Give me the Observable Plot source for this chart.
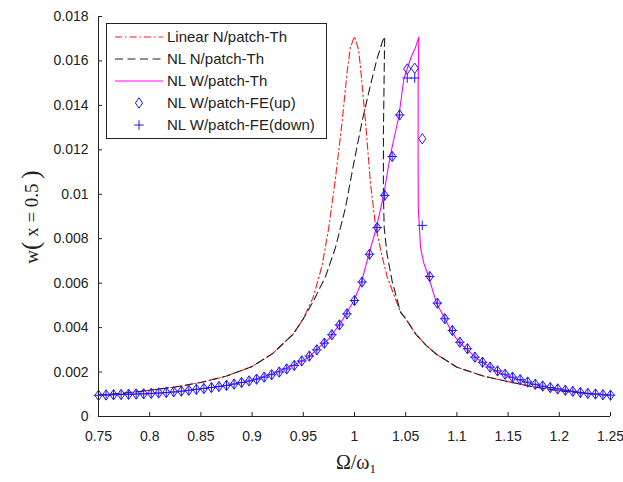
<!DOCTYPE html>
<html><head><meta charset="utf-8">
<script src="https://cdn.jsdelivr.net/npm/d3@7"></script>
<script src="https://cdn.jsdelivr.net/npm/@observablehq/plot@0.6"></script>
<style>body{margin:0;background:#fff} svg{display:block}</style>
</head><body><div id="chart"></div>
<script>
// ---- Data ----
const linOmega = [0.75, 0.775, 0.8, 0.825, 0.85, 0.875, 0.9, 0.92, 0.94, 0.95, 0.96, 0.9684, 0.9749, 0.9814, 0.988, 0.9928, 0.996, 1.0, 1.004, 1.0059, 1.0107, 1.0156, 1.0205, 1.027, 1.0318, 1.0449, 1.05, 1.06, 1.07, 1.08, 1.1, 1.125, 1.15, 1.175, 1.2, 1.225, 1.25];
const linW = [0.00097, 0.00105, 0.00118, 0.00133, 0.00153, 0.00182, 0.00225, 0.00283, 0.0037, 0.0044, 0.0054, 0.0068, 0.0085, 0.0107, 0.0133, 0.0155, 0.0166, 0.0171, 0.0165, 0.0157, 0.0133, 0.0105, 0.0086, 0.0072, 0.0063, 0.0047, 0.0044, 0.0037, 0.0032, 0.0028, 0.00222, 0.00183, 0.00157, 0.00133, 0.00116, 0.00104, 0.00095];

const nlnOmega = [0.75, 0.775, 0.8, 0.825, 0.85, 0.875, 0.9, 0.92, 0.94, 0.95, 0.96, 0.9717, 0.9814, 0.9912, 0.9993, 1.0075, 1.015, 1.022, 1.0275, 1.0295, 1.029, 1.0283, 1.0282, 1.029, 1.0318, 1.0367, 1.0449, 1.05, 1.06, 1.07, 1.08, 1.1, 1.125, 1.15, 1.175, 1.2, 1.225, 1.25];
const nlnW = [0.00097, 0.00105, 0.00118, 0.00133, 0.00153, 0.00182, 0.00225, 0.00283, 0.0037, 0.0044, 0.0052, 0.0063, 0.0076, 0.0094, 0.0114, 0.0133, 0.0148, 0.0161, 0.0169, 0.0171, 0.0155, 0.0130, 0.0100, 0.0085, 0.0073, 0.0061, 0.0047, 0.0044, 0.0037, 0.0032, 0.0028, 0.00222, 0.00183, 0.00157, 0.00133, 0.00116, 0.00104, 0.00095];

const nlwOmega = [0.75, 0.775, 0.8, 0.825, 0.85, 0.875, 0.9, 0.92, 0.94, 0.955, 0.965, 0.975, 0.9863, 0.9993, 1.0065, 1.014, 1.0214, 1.0286, 1.0352, 1.0433, 1.0482, 1.0547, 1.0595, 1.0628, 1.0622, 1.0621, 1.0623, 1.0645, 1.0677, 1.0716, 1.0801, 1.0872, 1.0938, 1.1019, 1.1094, 1.1176, 1.125, 1.1397, 1.1544, 1.1691, 1.1838, 1.1985, 1.2132, 1.2279, 1.25];
const nlwW = [0.00095, 0.00099, 0.00103, 0.0011, 0.00125, 0.0014, 0.00162, 0.00193, 0.0023, 0.00265, 0.0031, 0.0035, 0.0042, 0.0052, 0.0060, 0.0073, 0.0085, 0.0100, 0.0118, 0.0135, 0.0152, 0.0161, 0.0166, 0.01707, 0.0150, 0.0120, 0.0094, 0.0076, 0.0069, 0.0064, 0.0051, 0.0045, 0.0039, 0.00334, 0.00305, 0.00267, 0.00244, 0.0020, 0.00174, 0.00152, 0.00135, 0.00125, 0.00114, 0.00104, 0.00096];

const feOmega = [0.75, 0.7574, 0.7647, 0.7721, 0.7794, 0.7868, 0.7941, 0.8015, 0.8088, 0.8162, 0.8235, 0.8309, 0.8382, 0.8456, 0.8529, 0.8603, 0.8676, 0.875, 0.8824, 0.8897, 0.8971, 0.9044, 0.9118, 0.9191, 0.9265, 0.9338, 0.9412, 0.9485, 0.9559, 0.9632, 0.9706, 0.9779, 0.9853, 0.9926, 1.0, 1.0074, 1.0147, 1.0221, 1.0294, 1.0368, 1.0441, 1.0515, 1.0588, 1.0662, 1.0735, 1.0809, 1.0882, 1.0956, 1.1029, 1.1103, 1.1176, 1.125, 1.1324, 1.1397, 1.1471, 1.1544, 1.1618, 1.1691, 1.1765, 1.1838, 1.1912, 1.1985, 1.2059, 1.2132, 1.2206, 1.2279, 1.2353, 1.2426, 1.25];
const feUpW = [0.00095, 0.00097, 0.00098, 0.00099, 0.00100, 0.00101, 0.00102, 0.00104, 0.00106, 0.00108,
  0.00111, 0.00114, 0.00118, 0.00122, 0.00126, 0.00130, 0.00135, 0.00140, 0.00146, 0.00153,
  0.00160, 0.00168, 0.00177, 0.00188, 0.00200, 0.00214, 0.00230, 0.00250, 0.00272, 0.00300,
  0.00330, 0.00368, 0.00412, 0.00462, 0.00522, 0.00605, 0.00730, 0.00850, 0.00995, 0.01170,
  0.01357, 0.01564, 0.01567, 0.01250, 0.00630, 0.00510, 0.00440, 0.00387, 0.00334, 0.00305,
  0.00267, 0.00244, 0.00222, 0.00205, 0.00190, 0.00177, 0.00166, 0.00155, 0.00145, 0.00137,
  0.00130, 0.00124, 0.00118, 0.00113, 0.00108, 0.00104, 0.00101, 0.00098, 0.00096];
const feDownW = [0.00095, 0.00097, 0.00098, 0.00099, 0.00100, 0.00101, 0.00102, 0.00104, 0.00106, 0.00108,
  0.00111, 0.00114, 0.00118, 0.00122, 0.00126, 0.00130, 0.00135, 0.00140, 0.00146, 0.00153,
  0.00160, 0.00168, 0.00177, 0.00188, 0.00200, 0.00214, 0.00230, 0.00250, 0.00272, 0.00300,
  0.00330, 0.00368, 0.00412, 0.00462, 0.00522, 0.00605, 0.00730, 0.00850, 0.00995, 0.01170,
  0.01357, 0.01523, 0.01523, 0.00860, 0.00630, 0.00510, 0.00440, 0.00387, 0.00334, 0.00305,
  0.00267, 0.00244, 0.00222, 0.00205, 0.00190, 0.00177, 0.00166, 0.00155, 0.00145, 0.00137,
  0.00130, 0.00124, 0.00118, 0.00113, 0.00108, 0.00104, 0.00101, 0.00098, 0.00096];

const xTicks = [0.75, 0.8, 0.85, 0.9, 0.95, 1, 1.05, 1.1, 1.15, 1.2, 1.25];
const xTickLabels = ["0.75", "0.8", "0.85", "0.9", "0.95", "1", "1.05", "1.1", "1.15", "1.2", "1.25"];
const yTicks = [0, 0.002, 0.004, 0.006, 0.008, 0.01, 0.012, 0.014, 0.016, 0.018];
const yTickLabels = ["0", "0.002", "0.004", "0.006", "0.008", "0.01", "0.012", "0.014", "0.016", "0.018"];
const seriesNames = ["Linear N/patch-Th", "NL N/patch-Th", "NL W/patch-Th", "NL W/patch-FE(up)", "NL W/patch-FE(down)"];

// ---- Build tables ----
const zip = (xs, ys) => xs.map((x, i) => ({x, y: ys[i]}));
const linData = zip(linOmega, linW);
const nlnData = zip(nlnOmega, nlnW);
const nlwData = zip(nlwOmega, nlwW);
const upData = zip(feOmega, feUpW);
const downData = zip(feOmega, feDownW);

const W = 623, H = 482, mL = 98, mR = 13, mT = 16, mB = 66;
const RED = "#ff1a1a", BLK = "#222", MAG = "#ff00ff", BLUE = "#1a1aff";

const diamondSym = {draw(ctx, size) {
  const r = Math.sqrt(size / Math.PI);
  ctx.moveTo(0, -r * 1.3); ctx.lineTo(r * 0.9, 0); ctx.lineTo(0, r * 1.3); ctx.lineTo(-r * 0.9, 0); ctx.closePath();
}};
const plusSym = {draw(ctx, size) {
  const r = Math.sqrt(size / Math.PI) * 1.2;
  ctx.moveTo(-r, 0); ctx.lineTo(r, 0); ctx.moveTo(0, -r); ctx.lineTo(0, r);
}};

const xFmt = new Map(xTicks.map((t, i) => [t, xTickLabels[i]]));
const yFmt = new Map(yTicks.map((t, i) => [t, yTickLabels[i]]));

const chart = Plot.plot({
  width: W, height: H,
  marginLeft: mL, marginRight: mR, marginTop: mT, marginBottom: mB,
  style: {fontFamily: "'Liberation Sans', Arial, sans-serif", background: "#fff", color: "#222"},
  x: {domain: [0.75, 1.25]},
  y: {domain: [0, 0.018]},
  marks: [
    Plot.line(linData, {x: "x", y: "y", stroke: RED, strokeWidth: 1.1, strokeDasharray: "7,3,1.5,3"}),
    Plot.line(nlnData, {x: "x", y: "y", stroke: BLK, strokeWidth: 1.1, strokeDasharray: "8,4.5"}),
    Plot.line(nlwData, {x: "x", y: "y", stroke: MAG, strokeWidth: 1.1}),
    Plot.dot(upData, {x: "x", y: "y", symbol: diamondSym, r: 4, stroke: BLUE, fill: "none", strokeWidth: 1}),
    Plot.dot(downData, {x: "x", y: "y", symbol: plusSym, r: 4, stroke: BLUE, fill: "none", strokeWidth: 1}),
    Plot.ruleX([0.75], {stroke: "#222"}),
    Plot.ruleY([0], {stroke: "#222"}),
    Plot.tickX(xTicks, {x: d => d, insetTop: H - mT - mB - 4, stroke: "#222"}),
    Plot.tickY(yTicks, {y: d => d, insetRight: W - mL - mR - 4, stroke: "#222"}),
    Plot.axisX(xTicks, {tickSize: 0, tickPadding: 15, fontSize: 14, label: null, tickFormat: d => xFmt.get(d)}),
    Plot.axisY(yTicks, {tickSize: 0, tickPadding: 10, fontSize: 14, label: null, tickFormat: d => yFmt.get(d)})
  ]
});
document.getElementById("chart").appendChild(chart);

// ---- Axis titles and legend ----
const svg = d3.select(chart);
const xt = svg.append("text").attr("x", 356).attr("y", 469).attr("text-anchor", "middle")
  .attr("font-family", "'Liberation Serif', 'Times New Roman', serif").attr("font-size", 20).attr("fill", "#222");
xt.append("tspan").text("Ω/ω");
xt.append("tspan").attr("font-size", 13).attr("dy", 4).text("1");

const yt = svg.append("text").attr("transform", "translate(38,217) rotate(-90)").attr("text-anchor", "middle")
  .attr("font-family", "'Liberation Serif', 'Times New Roman', serif").attr("font-size", 19).attr("fill", "#222");
yt.append("tspan").text("w");
yt.append("tspan").attr("font-size", 25).attr("dy", 1).text("(");
yt.append("tspan").attr("font-size", 19).attr("dy", -1).text(" x = 0.5 ");
yt.append("tspan").attr("font-size", 25).attr("dy", 1).text(")");

const lg = svg.append("g");
lg.append("rect").attr("x", 106.5).attr("y", 23.5).attr("width", 220).attr("height", 115)
  .attr("fill", "#fff").attr("stroke", "#222").attr("stroke-width", 1);
const rowY = i => 37 + i * 22;
const styles = [
  {stroke: RED, dash: "7,3,1.5,3"},
  {stroke: BLK, dash: "8,4.5"},
  {stroke: MAG, dash: null}
];
styles.forEach((s, i) => {
  const l = lg.append("line").attr("x1", 115).attr("x2", 163).attr("y1", rowY(i)).attr("y2", rowY(i))
    .attr("stroke", s.stroke).attr("stroke-width", 1.1);
  if (s.dash) l.attr("stroke-dasharray", s.dash);
});
lg.append("path").attr("d", d3.symbol(diamondSym, Math.PI * 16)()).attr("transform", `translate(139,${rowY(3)})`)
  .attr("fill", "none").attr("stroke", BLUE);
lg.append("path").attr("d", d3.symbol(plusSym, Math.PI * 16)()).attr("transform", `translate(139,${rowY(4)})`)
  .attr("fill", "none").attr("stroke", BLUE);
seriesNames.forEach((n, i) => {
  lg.append("text").attr("x", 167).attr("y", rowY(i)).attr("dy", "0.35em").attr("text-anchor", "start")
    .attr("font-family", "'Liberation Sans', Arial, sans-serif").attr("font-size", 15).attr("fill", "#222").text(n);
});
</script>
</body></html>
